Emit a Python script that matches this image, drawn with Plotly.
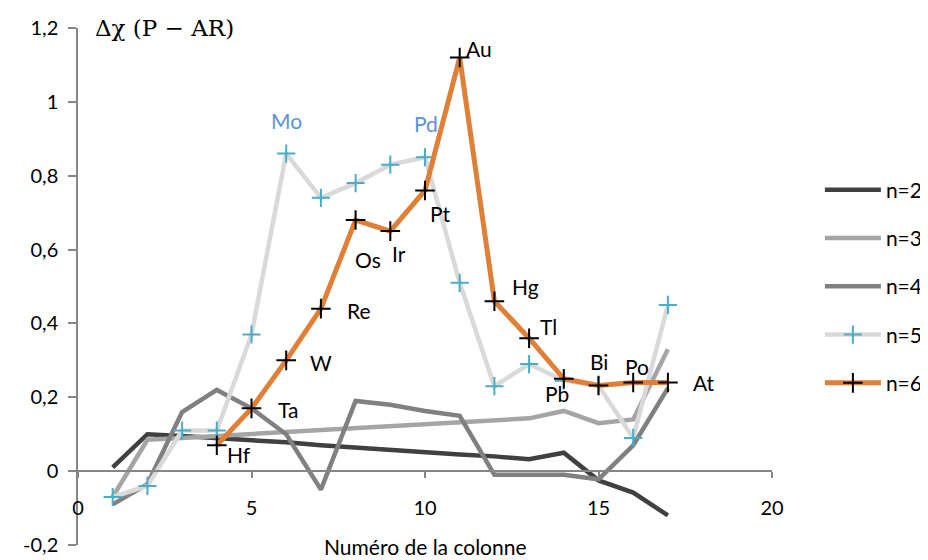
import plotly.graph_objects as go

# ---------------- data ----------------
colonne = list(range(1, 18))

n2 = [0.01, 0.10, 0.095, 0.09, 0.085, 0.078, 0.07, 0.063, 0.057, 0.05, 0.045, 0.04, 0.032, 0.05, -0.025, -0.058, -0.12]
n3 = [-0.07, 0.085, 0.09, 0.095, 0.10, 0.105, 0.11, 0.115, 0.12, 0.125, 0.13, 0.135, 0.143, 0.163, 0.13, 0.14, 0.33]
n4 = [-0.09, -0.035, 0.16, 0.22, 0.17, 0.10, -0.05, 0.19, 0.18, 0.163, 0.15, -0.01, -0.01, -0.01, -0.022, 0.07, 0.225]
n5 = [-0.07, -0.04, 0.11, 0.11, 0.37, 0.86, 0.74, 0.78, 0.83, 0.85, 0.51, 0.23, 0.29, 0.245, 0.232, 0.09, 0.45]

n6_x = list(range(4, 18))
n6 = [0.07, 0.17, 0.30, 0.44, 0.68, 0.65, 0.76, 1.12, 0.46, 0.36, 0.25, 0.232, 0.24, 0.24]
n6_labels = ["Hf", "Ta", "W", "Re", "Os", "Ir", "Pt", "Au", "Hg", "Tl", "Pb", "Bi", "Po", "At"]

n5_labels_x = [6, 10]
n5_labels = ["Mo", "Pd"]

y_tickvals = [-0.2, 0, 0.2, 0.4, 0.6, 0.8, 1.0, 1.2]
y_ticktext = ["-0,2", "0", "0,2", "0,4", "0,6", "0,8", "1", "1,2"]
x_tickvals = [0, 5, 10, 15, 20]

# ---------------- styling ----------------
FONT = "Lato"
LBL = 21
label_shift_n6 = {
    "Hf": (22, -9), "Ta": (36, -1), "W": (35, -2), "Re": (38, -2), "Os": (12, -39),
    "Ir": (9, -22), "Pt": (15, -23), "Au": (19, 9), "Hg": (31, 15), "Tl": (19, 12),
    "Pb": (-7, -15), "Bi": (0, 24), "Po": (4, 16), "At": (36, 0),
}
label_shift_n5 = {"Mo": (0, 33), "Pd": (1, 34)}

fig = go.Figure()

fig.add_trace(go.Scatter(x=colonne, y=n2, mode="lines", name="n=2", legendgroup="a",
                         line=dict(color="#404040", width=4.5)))
fig.add_trace(go.Scatter(x=colonne, y=n3, mode="lines", name="n=3", legendgroup="b",
                         line=dict(color="#A5A5A5", width=4.5)))
fig.add_trace(go.Scatter(x=colonne, y=n4, mode="lines", name="n=4", legendgroup="c",
                         line=dict(color="#808080", width=4.5)))
fig.add_trace(go.Scatter(x=colonne, y=n5, mode="lines+markers", name="n=5", legendgroup="d",
                         line=dict(color="#D9D9D9", width=4.5),
                         marker=dict(symbol="cross-thin", size=13, line=dict(color="#4BACC6", width=2))))
fig.add_trace(go.Scatter(x=n6_x, y=n6, mode="lines+markers", name="n=6", legendgroup="e",
                         line=dict(color="#E07F35", width=5),
                         marker=dict(symbol="cross-thin", size=14, line=dict(color="#000000", width=2))))

for xv, yv, lab in zip(n6_x, n6, n6_labels):
    dx, dy = label_shift_n6[lab]
    fig.add_annotation(x=xv, y=yv, text=lab, showarrow=False, xshift=dx, yshift=dy,
                       font=dict(family=FONT, size=LBL, color="#000000"))

for xv, lab in zip(n5_labels_x, n5_labels):
    yv = n5[colonne.index(xv)]
    dx, dy = label_shift_n5[lab]
    fig.add_annotation(x=xv, y=yv, text=lab, showarrow=False, xshift=dx, yshift=dy,
                       font=dict(family=FONT, size=LBL, color="#5B92D8"))

# axis titles
fig.add_annotation(x=0, y=1, xref="paper", yref="paper", xanchor="left", yanchor="middle",
                   xshift=15, text="Δχ (P − AR)", showarrow=False,
                   font=dict(family="DejaVu Serif", size=23, color="#000000"))
fig.add_annotation(x=0.5, y=0, xref="paper", yref="paper", xanchor="center", yanchor="middle",
                   yshift=-1, text="Numéro de la colonne", showarrow=False,
                   font=dict(family=FONT, size=21, color="#000000"))

fig.update_layout(
    width=920, height=552,
    margin=dict(l=70, r=156, t=20, b=15, autoexpand=False),
    plot_bgcolor="white", paper_bgcolor="white",
    font=dict(family=FONT, size=20, color="#000000"),
    showlegend=True,
    legend=dict(x=1.069, y=0.5, xanchor="left", yanchor="middle",
                font=dict(family=FONT, size=21, color="#000000"),
                traceorder="grouped", tracegroupgap=18, itemwidth=56,
                bgcolor="rgba(0,0,0,0)"),
)

fig.update_xaxes(range=[0, 20], tickvals=x_tickvals, anchor="free", position=0.2 / 1.4,
                 showline=True, linecolor="#868686", linewidth=1.5,
                 ticks="outside", ticklen=6, tickcolor="#868686", tickwidth=1.5,
                 showgrid=False, zeroline=False, ticklabelstandoff=13, automargin=False,
                 tickfont=dict(family=FONT, size=20, color="#000000"))
fig.update_yaxes(range=[-0.2, 1.2], tickvals=y_tickvals, ticktext=y_ticktext,
                 showline=True, linecolor="#868686", linewidth=1.5,
                 ticks="outside", ticklen=8, tickcolor="#868686", tickwidth=1.5,
                 showgrid=False, zeroline=False, ticklabelstandoff=6, automargin=False,
                 tickfont=dict(family=FONT, size=20, color="#000000"))

fig.write_html("out.html")
